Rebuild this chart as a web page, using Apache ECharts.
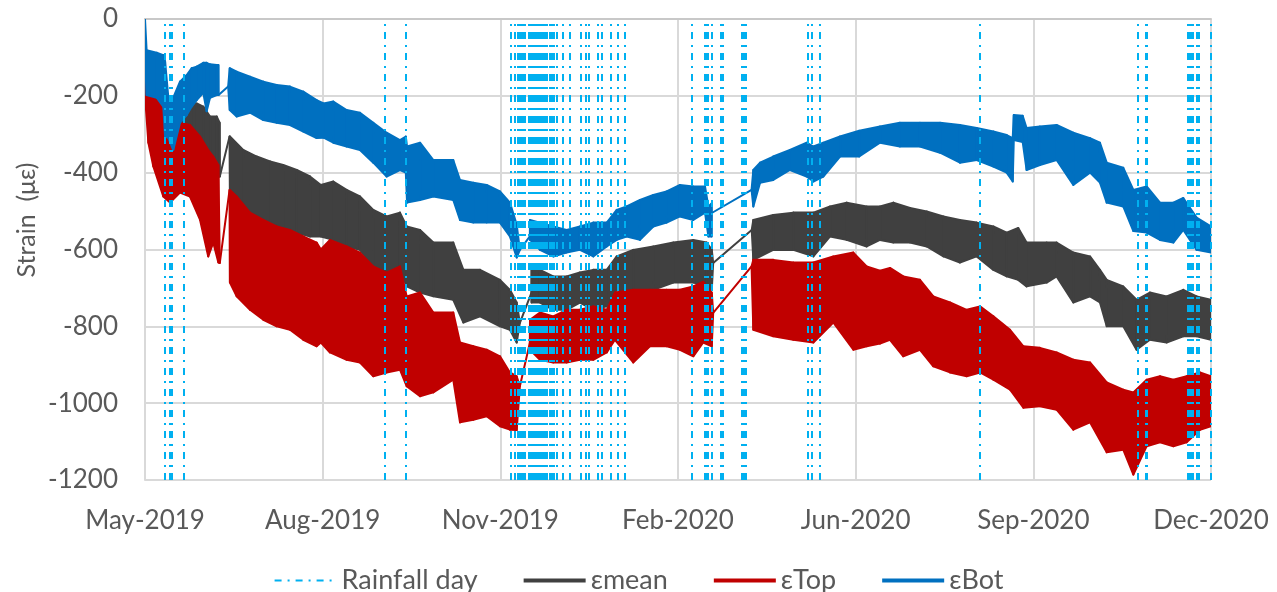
<!DOCTYPE html>
<html><head><meta charset="utf-8">
<script src="https://cdn.jsdelivr.net/npm/echarts@6/dist/echarts.min.js"></script>
<style>html,body{margin:0;padding:0;background:#fff}#c{width:1277px;height:592px}</style>
</head><body><div id="c"></div>
<script>
// x axis: days since start (tick every 100 days)
const xTickLabels = ['May-2019','Aug-2019','Nov-2019','Feb-2020','Jun-2020','Sep-2020','Dec-2020'];
const yTickValues = [0,-200,-400,-600,-800,-1000,-1200];

// days with rainfall
const rainDays = [11,14,15,22,135,147,206,208,210,211,212,213,214,216,217,218,219,220,221,222,223,224,225,226,228,229,230,232,235,239,245,248,250,255,257,262,266,270,308,315,316,317,319,324,325,336,337,338,373,375,380,470,559,563,564,587,588,589,590,592,593,600];

// [day, upper envelope, lower envelope] of the daily strain oscillation
const botBand = [
[0,0,-100],[0.9,-81,-198],[6.6,-88,-205],[10.3,-94,-228],[11.3,-110,-306],[13.1,-202,-309],[15.9,-205,-341],
[19.7,-163,-270],[23.5,-146,-250],[26.3,-128,-228],[29.1,-124,-211],[32.8,-114,-192],[34.7,-114,-240],[36.6,-118,-205],
[40.4,-120,-198],[41.3,-120,-198],[41.4,-198,-198],[46.8,-176,-176],[47.7,-128,-237],[51.6,-137,-254],[59.1,-150,-244],
[66.6,-163,-263],[74.1,-172,-270],[81.6,-176,-276],[89.1,-189,-293],[96.6,-211,-310],[100.5,-220,-309],[106.0,-215,-322],
[113.5,-237,-332],[121.0,-244,-341],[128.5,-270,-374],[136.0,-296,-410],[143.5,-315,-393],[146.8,-306,-400],[147.5,-332,-478],
[154.8,-322,-471],[162.3,-367,-462],[173.5,-367,-471],[177.3,-419,-523],[184.8,-426,-530],[192.3,-432,-530],[199.8,-449,-530],
[205.4,-478,-566],[209.2,-535,-621],[211.0,-601,-601],[216.6,-566,-566],[216.7,-523,-575],[222.3,-530,-601],[229.8,-540,-618],
[237.3,-549,-608],[244.8,-540,-601],[252.3,-530,-618],[259.9,-530,-592],[265.5,-497,-575],[271.1,-488,-566],[278.6,-471,-575],
[286.1,-458,-540],[293.6,-449,-530],[301.1,-432,-514],[308.6,-436,-523],[315.2,-436,-504],[317.1,-488,-566],[318.9,-480,-566],
[319.0,-505,-505],[341.4,-445,-445],[342.4,-393,-488],[346.2,-374,-426],[353.6,-358,-419],[363.0,-341,-393],[372.4,-322,-410],
[376.2,-332,-423],[381.8,-322,-410],[391.2,-306,-358],[402.0,-291,-358],[413.7,-280,-322],[424.9,-270,-332],[436.2,-270,-332],
[447.5,-270,-348],[458.7,-276,-374],[468.1,-284,-367],[477.5,-293,-384],[485.0,-302,-400],[488.4,-310,-423],[489.0,-250,-315],
[494.0,-252,-320],[496.2,-284,-393],[503.7,-280,-380],[513.1,-276,-367],[522.5,-296,-432],[531.9,-310,-400],[537.5,-322,-426],
[541.3,-374,-478],[550.6,-387,-488],[556.3,-445,-552],[563.8,-436,-556],[571.3,-478,-575],[578.8,-478,-582],[584.4,-466,-549],
[591.9,-517,-601],[600,-540,-608]
];
const meanBand = [
[0,-70,-140],[2.8,-150,-250],[10.3,-165,-300],[15.9,-240,-330],[19.7,-250,-330],[23.5,-240,-330],[26.3,-224,-330],
[29.1,-220,-340],[32.8,-228,-370],[36.6,-254,-400],[40.4,-254,-380],[42.0,-270,-410],[42.1,-410,-410],[47.6,-306,-306],
[47.8,-306,-445],[55.3,-341,-497],[62.9,-358,-514],[70.4,-371,-530],[77.8,-380,-549],[85.4,-393,-556],[92.9,-410,-566],
[99.0,-432,-566],[106.0,-423,-575],[113.5,-445,-592],[121.0,-462,-601],[128.5,-497,-644],[136.0,-514,-670],[143.5,-504,-653],
[147.3,-540,-696],[154.8,-549,-712],[162.3,-582,-722],[173.5,-582,-731],[179.2,-653,-790],[188.6,-653,-774],[199.8,-679,-800],
[205.4,-705,-809],[209.2,-738,-842],[211.0,-791,-791],[217.5,-713,-713],[217.6,-653,-738],[222.3,-653,-738],[229.8,-670,-757],
[237.3,-670,-757],[244.8,-660,-738],[252.3,-653,-757],[259.9,-653,-748],[265.5,-618,-705],[274.8,-601,-712],[286.1,-592,-705],
[297.4,-582,-686],[308.6,-575,-686],[316.1,-582,-696],[319.0,-600,-705],[319.8,-635,-635],[341.5,-549,-549],[342.4,-523,-627],
[353.6,-510,-601],[364.9,-504,-601],[376.2,-504,-618],[385.6,-488,-566],[394.9,-478,-575],[406.2,-488,-592],[413.7,-488,-575],
[421.2,-478,-582],[430.6,-492,-582],[440.0,-501,-592],[449.4,-514,-618],[458.7,-523,-634],[468.1,-530,-618],[477.5,-540,-653],
[485.0,-556,-670],[491.5,-544,-679],[496.2,-582,-696],[507.5,-582,-686],[513.1,-582,-670],[522.5,-608,-738],[531.9,-618,-722],
[537.5,-653,-738],[541.3,-679,-800],[550.6,-696,-800],[558.1,-731,-861],[565.6,-712,-835],[575.0,-722,-842],[584.4,-705,-826],
[591.9,-722,-826],[600,-731,-835]
];
const topBand = [
[0,-133,-200],[1.9,-185,-322],[4.7,-206,-384],[10.3,-224,-462],[14.1,-280,-478],[19.7,-270,-452],[25.3,-276,-462],
[31.0,-306,-523],[35.6,-341,-618],[38.4,-358,-582],[41.3,-380,-634],[42.1,-635,-635],[47.6,-445,-445],[47.8,-445,-686],
[51.6,-462,-722],[59.1,-504,-757],[66.6,-523,-783],[74.1,-540,-800],[81.6,-549,-809],[89.1,-566,-835],[96.6,-582,-852],
[99.0,-600,-842],[104.1,-575,-868],[113.5,-592,-887],[121.0,-608,-894],[128.5,-644,-930],[136.0,-660,-920],[143.5,-644,-913],
[147.3,-722,-956],[154.8,-712,-982],[162.3,-764,-972],[173.5,-764,-939],[177.3,-842,-1050],[184.8,-852,-1043],[192.3,-861,-1034],
[199.8,-878,-1060],[205.4,-920,-1069],[209.2,-930,-1070],[211.0,-956,-956],[216.6,-843,-843],[216.7,-783,-861],[222.3,-764,-887],
[229.8,-774,-894],[237.3,-757,-894],[244.8,-757,-887],[252.3,-748,-887],[259.9,-757,-868],[264.5,-712,-835],[274.8,-705,-894],
[284.2,-705,-852],[293.6,-705,-852],[301.1,-705,-861],[308.6,-696,-878],[314.2,-684,-842],[319.0,-712,-852],[319.8,-765,-765],
[341.4,-644,-644],[342.4,-627,-809],[353.6,-627,-826],[364.9,-634,-835],[376.2,-634,-842],[387.4,-618,-790],[398.7,-608,-861],
[406.2,-644,-852],[413.7,-655,-845],[419.3,-648,-835],[426.8,-670,-878],[436.2,-679,-861],[443.7,-722,-904],[453.1,-738,-920],
[462.5,-757,-930],[470.0,-748,-920],[477.5,-774,-939],[486.9,-809,-965],[494.4,-852,-1012],[503.7,-856,-1008],[513.1,-868,-1017],
[522.5,-887,-1069],[531.9,-894,-1050],[541.3,-946,-1128],[550.6,-965,-1121],[556.3,-972,-1186],[563.8,-939,-1112],[571.3,-930,-1102],
[578.8,-939,-1112],[586.3,-930,-1102],[593.8,-920,-1069],[600,-930,-1060]
];

const FONT = 'Lato';
const TXT = '#595959';
const RAIN = '#00B0F0';
const RAIN_DASH = [7, 6, 2, 6];

// legend-only line series + band drawn as polygons through the axes' scales
function bandSeries(name, color, band) {
  return [
    { name: name, type: 'line', data: [], symbol: 'none', lineStyle: { color: color, width: 4 },
      itemStyle: { color: color }, animation: false },
    { name: name + ' band', type: 'custom', silent: true, animation: false, clip: true,
      data: band, encode: { x: 0, y: [1, 2] },
      renderItem: function (params, api) {
        const i = params.dataIndex;
        if (i >= band.length - 1) return null;
        const a = band[i], b = band[i + 1];
        const pts = [api.coord([a[0], a[1]]), api.coord([b[0], b[1]]),
                     api.coord([b[0], b[2]]), api.coord([a[0], a[2]])];
        return { type: 'polygon', shape: { points: pts },
          style: { fill: color, stroke: color, lineWidth: 2, lineJoin: 'round' } };
      } }
  ];
}

const chart = echarts.init(document.getElementById('c'), null, { renderer: 'canvas' });
chart.setOption({
  animation: false,
  backgroundColor: '#fff',
  grid: { left: 145, right: 66, top: 19, bottom: 112, containLabel: false },
  xAxis: {
    type: 'value', min: 0, max: 600, interval: 100,
    axisLine: { show: true, lineStyle: { color: '#C8C8C8', width: 2 } },
    axisTick: { show: false },
    splitLine: { show: true, lineStyle: { color: '#D9D9D9', width: 2 } },
    axisLabel: { fontFamily: FONT, fontSize: 26, color: TXT, margin: 28,
      formatter: v => xTickLabels[Math.round(v / 100)] }
  },
  yAxis: {
    type: 'value', min: yTickValues[yTickValues.length - 1], max: yTickValues[0], interval: 200,
    axisLine: { show: true, lineStyle: { color: '#D9D9D9', width: 2 } },
    axisTick: { show: false },
    splitLine: { show: true, lineStyle: { color: '#D9D9D9', width: 2 } },
    axisLabel: { fontFamily: FONT, fontSize: 26, color: TXT, margin: 27, formatter: v => String(v) }
  },
  graphic: [{
    type: 'text', x: 27, y: 220, rotation: Math.PI / 2,
    style: { text: 'Strain  (με)', fill: TXT, font: '25px Lato', align: 'center', verticalAlign: 'middle' }
  }],
  legend: {
    left: 'center', top: 562, itemWidth: 62, itemHeight: 14, itemGap: 44,
    textStyle: { fontFamily: FONT, fontSize: 27, color: TXT },
    data: [
      { name: 'Rainfall day', lineStyle: { width: 2 }, itemStyle: { opacity: 0 } },
      { name: 'εmean', lineStyle: { width: 4 }, itemStyle: { opacity: 0 } },
      { name: 'εTop', lineStyle: { width: 4 }, itemStyle: { opacity: 0 } },
      { name: 'εBot', lineStyle: { width: 4 }, itemStyle: { opacity: 0 } }
    ]
  },
  series: [
    { name: 'Rainfall day', type: 'line', data: [], symbol: 'none',
      lineStyle: { color: RAIN, width: 2, type: RAIN_DASH }, itemStyle: { color: RAIN },
      markLine: { silent: true, symbol: ['none', 'none'], label: { show: false }, animation: false,
        lineStyle: { color: RAIN, width: 2, type: RAIN_DASH },
        data: rainDays.map(d => ({ xAxis: d })) } },
    ...bandSeries('εmean', '#404040', meanBand),
    ...bandSeries('εTop', '#C00000', topBand),
    ...bandSeries('εBot', '#0070C0', botBand)
  ]
});
</script></body></html>
